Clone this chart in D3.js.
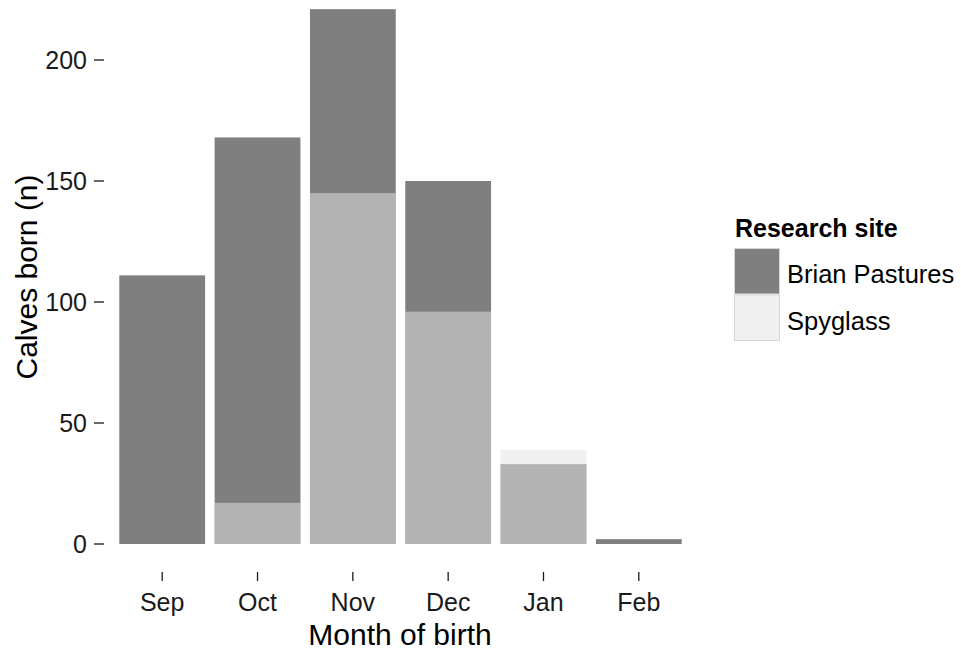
<!DOCTYPE html>
<html>
<head>
<meta charset="utf-8">
<script src="https://cdn.jsdelivr.net/npm/d3@7"></script>
<style>
  html, body { margin: 0; padding: 0; background: #fff; }
  svg { display: block; font-family: "Liberation Sans", Arial, sans-serif; }
</style>
</head>
<body>
<svg id="chart" width="961" height="654"></svg>
<script>
// ---- data ----
const months = ["Sep", "Oct", "Nov", "Dec", "Jan", "Feb"];
const brianPastures = [111, 168, 221, 150, 33, 2];
const spyglass = [0, 17, 145, 96, 39, 0];
const yTicks = [0, 50, 100, 150, 200];
const siteNames = ["Brian Pastures", "Spyglass"];

const svg = d3.select("#chart");

const x = d3.scaleBand().domain(months).range([105, 696])
  .paddingInner(0.1).paddingOuter(0.15);
const y = d3.scaleLinear().domain([0, 200]).range([544, 60]);

const colBP = "#7f7f7f";
const colSpy = "#e2e2e2";
const spyAlpha = 0.523;

// Brian Pastures bars
svg.append("g").selectAll("rect").data(months).join("rect")
  .attr("x", d => x(d))
  .attr("width", x.bandwidth())
  .attr("y", (d, i) => y(brianPastures[i]))
  .attr("height", (d, i) => y(0) - y(brianPastures[i]))
  .attr("fill", colBP);

// Spyglass bars (semi-transparent, overlaid)
svg.append("g").selectAll("rect").data(months).join("rect")
  .attr("x", d => x(d))
  .attr("width", x.bandwidth())
  .attr("y", (d, i) => y(spyglass[i]))
  .attr("height", (d, i) => y(0) - y(spyglass[i]))
  .attr("fill", colSpy)
  .attr("fill-opacity", spyAlpha);

// Y axis (ticks and labels, no line)
const gy = svg.append("g");
gy.selectAll("line").data(yTicks).join("line")
  .attr("x1", 94).attr("x2", 104)
  .attr("y1", d => y(d)).attr("y2", d => y(d))
  .attr("stroke", "#1a1a1a").attr("stroke-width", 1.3);
gy.selectAll("text").data(yTicks).join("text")
  .attr("x", 87).attr("y", d => y(d) + 9)
  .attr("text-anchor", "end")
  .attr("font-size", 25)
  .attr("fill", "#1a1a1a")
  .text(d => d);

// X axis
const gx = svg.append("g");
gx.selectAll("line").data(months).join("line")
  .attr("x1", d => x(d) + x.bandwidth() / 2).attr("x2", d => x(d) + x.bandwidth() / 2)
  .attr("y1", 572).attr("y2", 581)
  .attr("stroke", "#1a1a1a").attr("stroke-width", 1.3);
gx.selectAll("text").data(months).join("text")
  .attr("x", d => x(d) + x.bandwidth() / 2).attr("y", 611)
  .attr("text-anchor", "middle")
  .attr("font-size", 25)
  .attr("fill", "#1a1a1a")
  .text(d => d);

// Axis titles
svg.append("text")
  .attr("x", 400).attr("y", 645)
  .attr("text-anchor", "middle")
  .attr("font-size", 30)
  .attr("fill", "#000")
  .text("Month of birth");
svg.append("text")
  .attr("transform", "translate(37,277) rotate(-90)")
  .attr("text-anchor", "middle")
  .attr("font-size", 30)
  .attr("fill", "#000")
  .text("Calves born (n)");

// Legend
const lg = svg.append("g");
lg.append("text")
  .attr("x", 735).attr("y", 237)
  .attr("font-size", 25).attr("font-weight", "bold")
  .attr("fill", "#000")
  .text("Research site");
const keys = lg.selectAll("g.key").data(siteNames).join("g").attr("class", "key")
  .attr("transform", (d, i) => `translate(734,${248 + i * 46.5})`);
keys.append("rect")
  .attr("x", 0.5).attr("y", 0.5).attr("width", 45).attr("height", 45.5)
  .attr("fill", "#fff").attr("stroke", "#d6d6d6").attr("stroke-width", 1);
keys.append("rect")
  .attr("x", 1).attr("y", 1).attr("width", 44).attr("height", 44.5)
  .attr("fill", (d, i) => i === 0 ? colBP : colSpy)
  .attr("fill-opacity", (d, i) => i === 0 ? 1 : spyAlpha);
keys.append("text")
  .attr("x", 53).attr("y", 35)
  .attr("font-size", 25.5)
  .attr("fill", "#000")
  .text(d => d);
</script>
</body>
</html>
